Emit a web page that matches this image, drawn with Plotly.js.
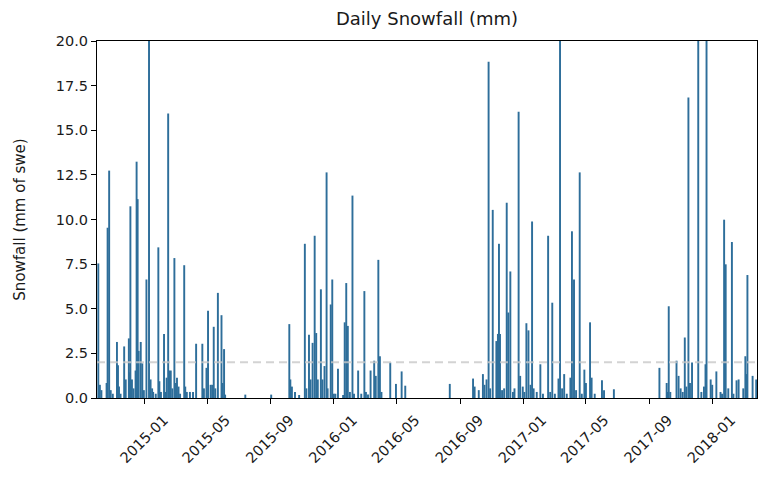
<!DOCTYPE html>
<html>
<head>
<meta charset="utf-8">
<script src="https://cdn.plot.ly/plotly-3.0.1.min.js"></script>
<style>
  html, body { margin: 0; padding: 0; background: #ffffff; }
  #chart { width: 759px; height: 487px; }
</style>
</head>
<body>
<div id="chart"></div>
<script>
// Daily snowfall (mm of snow water equivalent), days without snow omitted.
const winter1Dates = [
  '2014-10-03','2014-10-06','2014-10-09','2014-10-19','2014-10-21','2014-10-24','2014-10-27','2014-10-31',
  '2014-11-08','2014-11-10','2014-11-12','2014-11-15','2014-11-22','2014-11-25','2014-12-01','2014-12-03',
  '2014-12-04','2014-12-07','2014-12-10','2014-12-14','2014-12-16','2014-12-18','2014-12-20','2014-12-24',
  '2014-12-27','2014-12-30','2015-01-04','2015-01-09','2015-01-12','2015-01-15','2015-01-17','2015-01-22',
  '2015-01-27','2015-01-29','2015-02-01','2015-02-07','2015-02-09','2015-02-12','2015-02-15','2015-02-17',
  '2015-02-20','2015-02-23','2015-02-27','2015-03-02','2015-03-04','2015-03-07','2015-03-10','2015-03-18',
  '2015-03-20','2015-03-23','2015-03-29','2015-04-04','2015-04-10','2015-04-22','2015-04-25','2015-04-30',
  '2015-05-03','2015-05-08','2015-05-11','2015-05-14','2015-05-17','2015-05-22','2015-05-29','2015-05-31',
  '2015-06-03','2015-06-05','2015-07-14','2015-09-02'
];
const winter1Values = [
  7.5, 0.7, 0.4, 0.8, 9.5, 12.7, 0.4, 0.2,
  3.1, 1.8, 0.6, 0.2, 2.85, 1.0, 3.3, 1.4,
  10.7, 1.0, 0.5, 1.5, 13.2, 11.1, 2.6, 3.1,
  1.9, 0.4, 6.6, 24.3, 1.0, 0.5, 0.3, 0.2,
  8.4, 0.9, 0.3, 3.55, 0.3, 1.1, 15.9, 1.5,
  1.5, 0.5, 7.8, 0.8, 1.1, 0.6, 0.2, 7.4,
  0.6, 0.3, 0.3, 0.3, 3.0, 3.0, 0.5, 1.65,
  4.85, 0.7, 0.7, 3.95, 0.5, 5.85, 4.6, 0.8,
  2.7, 0.15, 0.15, 0.15
];

const winter2Dates = [
  '2015-10-07','2015-10-09','2015-10-12','2015-10-18','2015-10-26','2015-11-06','2015-11-09','2015-11-14',
  '2015-11-17','2015-11-21','2015-11-25','2015-11-28','2015-12-01','2015-12-07','2015-12-10','2015-12-14',
  '2015-12-18','2015-12-20','2015-12-26','2015-12-29','2016-01-01','2016-01-04','2016-01-09','2016-01-19',
  '2016-01-22','2016-01-25','2016-01-28','2016-02-01','2016-02-06','2016-02-09','2016-02-17','2016-02-23',
  '2016-02-29','2016-03-03','2016-03-07','2016-03-12','2016-03-19','2016-03-22','2016-03-27','2016-03-30',
  '2016-04-02','2016-04-19','2016-04-30','2016-05-11','2016-05-18','2016-08-12'
];
const winter2Values = [
  4.1, 1.0, 0.6, 0.3, 0.13, 8.6, 0.5, 3.5,
  1.0, 3.05, 9.05, 3.6, 1.0, 6.05, 1.0, 1.75,
  12.6, 0.5, 5.2, 6.6, 0.2, 0.2, 1.6, 0.13,
  4.2, 6.4, 4.0, 0.3, 11.3, 0.2, 1.5, 0.2,
  5.95, 0.3, 0.15, 1.5, 2.05, 1.2, 7.7, 2.3,
  0.3, 1.95, 0.75, 1.45, 0.65, 0.75
];

const winter3Dates = [
  '2016-09-26','2016-09-29','2016-10-07','2016-10-15','2016-10-18','2016-10-22','2016-10-26','2016-10-29',
  '2016-11-03','2016-11-10','2016-11-13','2016-11-15','2016-11-17','2016-11-21','2016-11-25','2016-11-30',
  '2016-12-03','2016-12-07','2016-12-12','2016-12-15','2016-12-23','2016-12-26','2016-12-31','2017-01-03',
  '2017-01-07','2017-01-11','2017-01-15','2017-01-18','2017-01-21','2017-01-27','2017-02-03','2017-02-08',
  '2017-02-18','2017-02-22','2017-02-26','2017-03-03','2017-03-10','2017-03-13','2017-03-17','2017-03-21',
  '2017-03-26','2017-04-02','2017-04-05','2017-04-09','2017-04-13','2017-04-20','2017-04-24','2017-04-29',
  '2017-05-02','2017-05-10','2017-05-13','2017-05-19','2017-06-02','2017-06-06','2017-06-25'
];
const winter3Values = [
  1.05, 0.6, 0.4, 1.3, 0.7, 1.0, 18.8, 0.5,
  10.5, 3.15, 3.55, 8.6, 3.55, 0.4, 0.5, 10.9,
  4.75, 7.05, 0.3, 0.5, 16.0, 1.2, 0.6, 0.3,
  4.15, 3.75, 0.7, 9.85, 0.5, 0.3, 1.85, 0.2,
  9.05, 0.3, 5.3, 0.2, 1.05, 22.5, 0.5, 1.3,
  0.2, 1.1, 9.3, 6.6, 0.4, 12.6, 0.2, 1.55,
  0.8, 4.2, 1.1, 0.2, 0.95, 0.4, 0.45
];

const winter4Dates = [
  '2017-09-21','2017-10-05','2017-10-07','2017-10-09','2017-10-12','2017-10-24','2017-10-28','2017-11-01',
  '2017-11-05','2017-11-09','2017-11-12','2017-11-16','2017-11-19','2017-11-23','2017-12-05','2017-12-11',
  '2017-12-16','2017-12-19','2017-12-21','2017-12-29','2018-01-01','2018-01-09','2018-01-17','2018-01-20',
  '2018-01-24','2018-01-27','2018-02-01','2018-02-08','2018-02-11','2018-02-17','2018-02-21','2018-03-02',
  '2018-03-06','2018-03-08','2018-03-10','2018-03-20','2018-03-27'
];
const winter4Values = [
  1.65, 0.8, 0.3, 5.1, 0.3, 2.05, 1.2, 0.5,
  0.3, 3.35, 0.6, 16.8, 0.8, 1.95, 23.0, 0.3,
  0.6, 1.85, 21.5, 1.0, 0.7, 1.45, 0.3, 0.2,
  9.95, 7.45, 0.5, 8.7, 0.2, 0.95, 1.0, 0.5,
  2.3, 1.3, 6.85, 1.2, 1.0
];

// Reference level drawn as a dashed line
const thresholdMm = 2.0;

// Axis ticks
const xTickDates = ['2015-01-01','2015-05-01','2015-09-01','2016-01-01','2016-05-01',
                    '2016-09-01','2017-01-01','2017-05-01','2017-09-01','2018-01-01'];
const xTickLabels = ['2015-01','2015-05','2015-09','2016-01','2016-05',
                     '2016-09','2017-01','2017-05','2017-09','2018-01'];
const yTickVals = [0, 2.5, 5, 7.5, 10, 12.5, 15, 17.5, 20];

const dates = [].concat(winter1Dates, winter2Dates, winter3Dates, winter4Dates);
const values = [].concat(winter1Values, winter2Values, winter3Values, winter4Values);

const DAY_MS = 86400000;
const FONT = 'DejaVu Sans, sans-serif';
const TEXT = '#1a1a1a';

const trace = {
  type: 'bar',
  x: dates,
  y: values,
  width: dates.map(() => DAY_MS),
  marker: {
    color: '#1f77b4',
    line: { color: '#2e6e9a', width: 1.4 }
  },
  hoverinfo: 'x+y'
};

const layout = {
  width: 759,
  height: 487,
  margin: { l: 97, r: 2, t: 41, b: 89, pad: 0 },
  paper_bgcolor: '#ffffff',
  plot_bgcolor: '#ffffff',
  showlegend: false,
  bargap: 0.2,
  font: { family: FONT, size: 14.5, color: TEXT },
  title: {
    text: 'Daily Snowfall (mm)',
    font: { family: FONT, size: 18, color: TEXT },
    x: 0.5, xref: 'paper', xanchor: 'center',
    y: 1 - 19 / 487, yref: 'container', yanchor: 'middle'
  },
  xaxis: {
    type: 'date',
    range: ['2014-09-30 12:00', '2018-03-28 12:00'],
    tickvals: xTickDates,
    ticktext: xTickLabels,
    tickangle: -45,
    ticks: 'outside',
    ticklen: 5,
    tickwidth: 1,
    tickcolor: '#000',
    showline: true,
    linecolor: '#000',
    linewidth: 1,
    mirror: true,
    showgrid: false,
    zeroline: false,
    automargin: false,
    ticklabelshift: 19,
    ticklabelstandoff: 2,
    tickfont: { family: FONT, size: 14.5, color: TEXT }
  },
  yaxis: {
    range: [0, 20],
    tickvals: yTickVals,
    tickformat: '.1f',
    ticks: 'outside',
    ticklen: 5,
    tickwidth: 1,
    tickcolor: '#000',
    showline: true,
    linecolor: '#000',
    linewidth: 1,
    mirror: true,
    showgrid: false,
    zeroline: false,
    automargin: false,
    tickfont: { family: FONT, size: 14.5, color: TEXT },
    title: {
      text: 'Snowfall (mm of swe)',
      font: { family: FONT, size: 15, color: TEXT },
      standoff: 26
    }
  },
  shapes: [{
    type: 'line',
    xref: 'paper', x0: 0, x1: 1,
    yref: 'y', y0: thresholdMm, y1: thresholdMm,
    line: { color: 'rgba(200,200,200,0.8)', width: 2, dash: '8px,5px' },
    layer: 'above'
  }]
};

Plotly.newPlot('chart', [trace], layout, { displayModeBar: false, staticPlot: true });
</script>
</body>
</html>
